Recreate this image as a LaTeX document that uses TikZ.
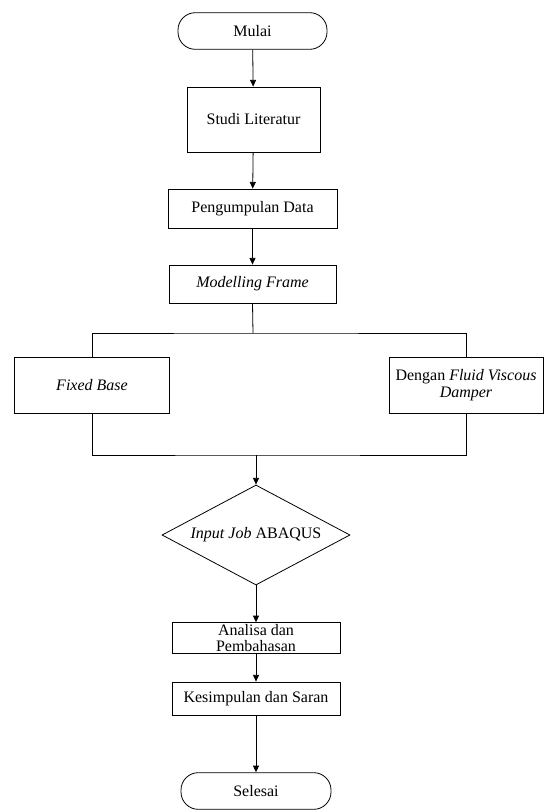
\documentclass[tikz,border=0pt]{standalone}
\usepackage{fontspec}
\setmainfont{Liberation Serif}
\usetikzlibrary{arrows.meta,shapes.geometric}

\begin{document}
\begin{tikzpicture}[x=0.75pt,y=-0.75pt,line width=0.6pt,
    every node/.style={font=\fontsize{12}{13}\selectfont,inner sep=1pt,align=center},
    terminal/.style={draw,rounded corners=13pt,minimum width=#1,minimum height=27.5pt},
    process/.style={draw,rectangle},
    decision/.style={draw,diamond,aspect=1.88,inner sep=0pt,minimum width=141pt,minimum height=75pt},
    flow/.style={-{Triangle[length=5pt,width=4.5pt]}}]
  \useasboundingbox (0,0) rectangle (544,810);

  \node[terminal=111.75pt] (start) at (252.5,31) {Mulai};
  \node[process,minimum width=99.75pt,minimum height=48.75pt] (study) at (253.5,119.5) {Studi Literatur};
  \node[process,minimum width=126.75pt,minimum height=29.25pt] (data) at (252.5,208.5) {Pengumpulan Data};
  \node[process,minimum width=125.25pt,minimum height=28.5pt] (model) at (252.5,284) {\textit{Modelling Frame}};
  \coordinate (split) at (253,333);
  \node[process,minimum width=116.25pt,minimum height=42pt] (fixed) at (92,385) {\textit{Fixed Base}};
  \node[process,minimum width=115.5pt,minimum height=42pt] (damper) at (466,385)
    {Dengan \textit{Fluid Viscous}\\\textit{Damper}};
  \coordinate (join) at (256,455);
  \node[decision] (job) at (256,535) {\textit{Input Job} ABAQUS};
  \node[process,minimum width=126pt,minimum height=23pt,inner ysep=0pt] (analysis) at (256,638)
    {Analisa dan\\[-1.5pt]Pembahasan};
  \node[process,minimum width=126pt,minimum height=24.75pt] (result) at (256,698.5) {Kesimpulan dan Saran};
  \node[terminal=112.5pt] (finish) at (256,791) {Selesai};

  % main line
  \draw[flow] (start) -- (study);
  \draw[flow] (study) -- (data);
  \draw[flow] (data) -- (model);
  \draw (model.south) -- (split);
  \draw (fixed.north) |- (split) -| (damper.north);
  \draw (fixed.south) |- (join) -| (damper.south);
  \draw[flow] (join) -- (job.north);
  \draw[flow] (job.south) -- (analysis);
  \draw[flow] (analysis) -- (result);
  \draw[flow] (result) -- (finish);
\end{tikzpicture}
\end{document}
